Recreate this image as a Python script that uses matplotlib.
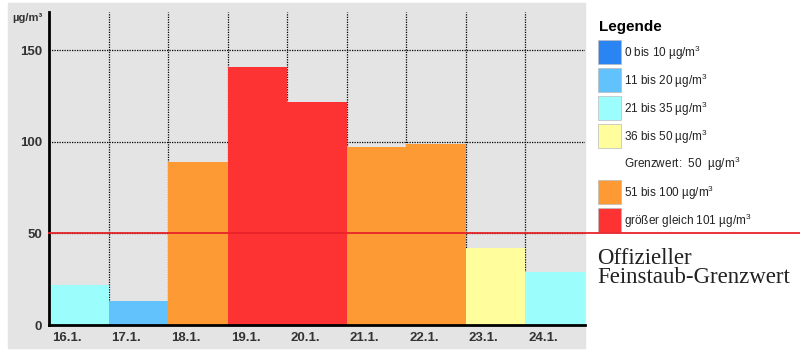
import matplotlib.pyplot as plt
from matplotlib.patches import Rectangle

plt.rcParams['font.family'] = ['Liberation Sans', 'DejaVu Sans']
plt.rcParams['mathtext.fontset'] = 'custom'
plt.rcParams['mathtext.rm'] = 'Liberation Sans'
plt.rcParams['mathtext.bf'] = 'Liberation Sans:bold'

# Feinstaub daily values (µg/m³)
days = ["16.1.", "17.1.", "18.1.", "19.1.", "20.1.", "21.1.", "22.1.", "23.1.", "24.1."]
values = [22, 13, 89, 141, 122, 97, 99, 42, 29]
limit = 50

# legend classes: upper bound, colour, label
class_upper = [10, 20, 35, 50, 100, 10000]
class_colors = ["#2a84f2", "#62c2fb", "#9cfdfd", "#fffd9c", "#fd9a33", "#fd3333"]
class_labels = ["0 bis 10 µg/m$^3$", "11 bis 20 µg/m$^3$", "21 bis 35 µg/m$^3$",
                "36 bis 50 µg/m$^3$", "51 bis 100 µg/m$^3$", "größer gleich 101 µg/m$^3$"]
limit_label = "Grenzwert:  50  µg/m$^3$"


def color_for(v):
    for up, c in zip(class_upper, class_colors):
        if v <= up:
            return c
    return class_colors[-1]


W, H = 800, 352
fig = plt.figure(figsize=(W / 100, H / 100), dpi=100)


def fx(x):
    return x / W


def fy(y):
    return 1 - y / H


gray = "#e4e4e4"
# gray chart panel
fig.patches.append(Rectangle((fx(8), fy(348)), fx(585) - fx(8), fy(3) - fy(348),
                             transform=fig.transFigure, color=gray, zorder=-5))

ax = fig.add_axes([fx(49), fy(325), fx(585) - fx(49), fy(12) - fy(325)])
ax.set_zorder(2)
ax.set_facecolor(gray)
ax.set_xlim(0, len(days))
ax.set_ylim(0, 171)

x = range(len(days))
ax.bar(x, values, width=1.0, align='edge', color=[color_for(v) for v in values],
       zorder=3, linewidth=0)

# dotted grid
for yv in [50, 100, 150]:
    ax.axhline(yv, color='black', lw=0.9, ls=(0, (1, 1)), zorder=1)
for xv in range(1, len(days)):
    ax.axvline(xv, color='black', lw=0.9, ls=(0, (1, 1)), zorder=1)

for s in ['top', 'right']:
    ax.spines[s].set_visible(False)
for s in ['left', 'bottom']:
    ax.spines[s].set_linewidth(2)
    ax.spines[s].set_zorder(5)

ax.set_yticks([0, 50, 100, 150])
ax.set_yticklabels(["0", "50", "100", "150"], fontsize=9.5, fontweight='bold', color='#333333')
ax.tick_params(axis='y', length=0, pad=5)
ax.set_xticks([i + 0.05 for i in x])
ax.set_xticklabels(days, fontsize=9.5, fontweight='bold', color='#333333', ha='left')
ax.tick_params(axis='x', length=0, pad=5)

fig.text(fx(12), fy(18), "µg/m³", fontsize=8, fontweight='bold', color='#333333',
         va='center', ha='left')

# official limit line across the whole figure
ax.axhline(limit, xmin=0, xmax=(W - 49) / (585 - 49), color='#e8232a', lw=1.3,
           clip_on=False, zorder=6)

fig.text(fx(597), fy(264), "Offizieller", family='Liberation Serif', fontsize=16.5,
         va='baseline', ha='left', color='#222222')
fig.text(fx(597), fy(283), "Feinstaub-Grenzwert", family='Liberation Serif', fontsize=16.5,
         va='baseline', ha='left', color='#222222')

# legend
fig.text(fx(599), fy(27), "Legende", fontsize=11, fontweight='bold', va='center', ha='left')
slot_y = [40, 68, 96, 124, 180, 208]
for yy, c, lab in zip(slot_y, class_colors, class_labels):
    fig.patches.append(Rectangle((fx(598), fy(yy + 24)), fx(621) - fx(598), fy(yy) - fy(yy + 24),
                                 transform=fig.transFigure, facecolor=c,
                                 edgecolor='#bbbbbb', lw=0.5))
    fig.text(fx(624), fy(yy + 13), lab, fontsize=8.5, va='center', ha='left', color='#222222')
fig.text(fx(624), fy(164), limit_label, fontsize=8.5, va='center', ha='left', color='#222222')

fig.savefig("out.png", dpi=100)
